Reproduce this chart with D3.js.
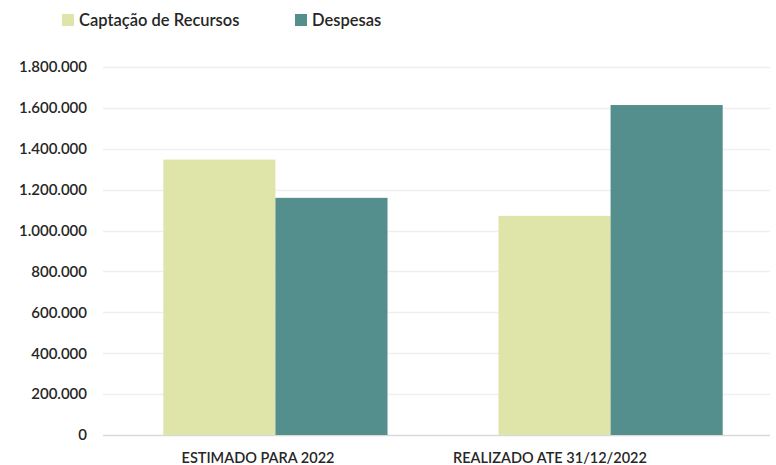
<!DOCTYPE html>
<html>
<head>
<meta charset="utf-8">
<script src="https://cdn.jsdelivr.net/npm/d3@7"></script>
<style>
  body { margin: 0; background: #fff; }
  text { font-family: Lato, "Open Sans", sans-serif; fill: #262626; }
</style>
</head>
<body>
<div id="chart"></div>
<script>
// Chart data
var categories = ["ESTIMADO PARA 2022", "REALIZADO ATE 31/12/2022"];
var series = ["Captação de Recursos", "Despesas"];
var captacao = [1347000, 1072000];
var despesas = [1160000, 1614000];
var yTicks = [0, 200000, 400000, 600000, 800000, 1000000, 1200000, 1400000, 1600000, 1800000];

var colors = ["#dfe5a9", "#558f8d"];

var width = 776,
    height = 465;

var svg = d3.select('#chart')
            .append('svg')
            .attr('width', width)
            .attr('height', height);

// Scales
var yScale = d3.scaleLinear()
               .domain([0, 1800000])
               .range([435, 67]);

var xScale = d3.scaleBand()
               .domain(categories)
               .range([108, 778])
               .paddingInner(0.331)
               .paddingOuter(0.165);

var xInner = d3.scaleBand()
               .domain(series)
               .range([0, xScale.bandwidth()]);

// label positions in the original are not centred on the bars
var labelScale = d3.scalePoint()
                   .domain(categories)
                   .range([258, 550]);

var fmt = d3.formatLocale({decimal: ",", thousands: ".", grouping: [3], currency: ["", ""]}).format(",");

// Gridlines
svg.append('g')
   .selectAll('line')
   .data(yTicks)
   .enter()
   .append('line')
   .attr('x1', 103)
   .attr('x2', 770)
   .attr('y1', function(d) { return Math.round(yScale(d)) + 0.5; })
   .attr('y2', function(d) { return Math.round(yScale(d)) + 0.5; })
   .attr('stroke', function(d) { return d === 0 ? '#d9d9d9' : '#efefef'; })
   .attr('stroke-width', 1.5);

// Y axis labels
var yAxis = d3.axisLeft()
              .scale(yScale)
              .tickValues(yTicks)
              .tickFormat(fmt)
              .tickSize(0)
              .tickPadding(0);

var yG = svg.append('g')
   .attr('transform', 'translate(87, 0)')
   .call(yAxis);
yG.select('.domain').remove();
yG.selectAll('text')
  .attr('font-size', 15)
  .attr('font-weight', 600)
  .attr('font-family', 'Lato, sans-serif')
  .attr('fill', '#262626');

// Bars
var groups = svg.append('g')
                .selectAll('g')
                .data(categories)
                .enter()
                .append('g')
                .attr('transform', function(d) { return 'translate(' + xScale(d) + ',0)'; });

groups.selectAll('rect')
      .data(function(d, i) {
        return [{s: series[0], v: captacao[i], c: colors[0]},
                {s: series[1], v: despesas[i], c: colors[1]}];
      })
      .enter()
      .append('rect')
      .attr('x', function(d) { return xInner(d.s); })
      .attr('width', xInner.bandwidth())
      .attr('y', function(d) { return yScale(d.v); })
      .attr('height', function(d) { return yScale(0) - yScale(d.v); })
      .attr('fill', function(d) { return d.c; });

// Category labels
svg.append('g')
   .selectAll('text')
   .data(categories)
   .enter()
   .append('text')
   .attr('x', function(d) { return labelScale(d); })
   .attr('y', 463)
   .attr('text-anchor', 'middle')
   .attr('font-size', 14.5)
   .attr('font-weight', 600)
   .text(function(d) { return d; });

// Legend
var legendX = [62, 295];
var legend = svg.append('g')
                .selectAll('g')
                .data(series)
                .enter()
                .append('g')
                .attr('transform', function(d, i) { return 'translate(' + legendX[i] + ',14)'; });

legend.append('rect')
      .attr('width', 12)
      .attr('height', 12)
      .attr('fill', function(d, i) { return colors[i]; });

legend.append('text')
      .attr('x', 17)
      .attr('y', 12)
      .attr('font-size', 16.5)
      .attr('font-weight', 600)
      .text(function(d) { return d; });
</script>
</body>
</html>
